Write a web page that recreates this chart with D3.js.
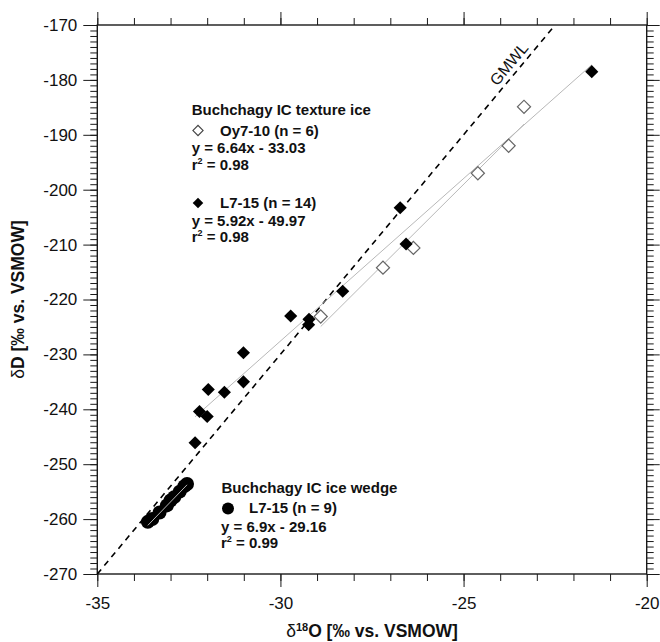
<!DOCTYPE html>
<html>
<head>
<meta charset="utf-8">
<script src="https://cdn.jsdelivr.net/npm/d3@7"></script>
<style>
  body { margin: 0; background: #fff; }
  svg { display: block; font-family: "Liberation Sans", Arial, sans-serif; }
</style>
</head>
<body>
<svg id="chart" width="660" height="642"></svg>
<script>
// axis ranges and ticks
const xDomain = [-35, -20];
const yDomain = [-270, -170];
const xMajorTicks = [-35, -30, -25, -20];
const yMajorTicks = [-270, -260, -250, -240, -230, -220, -210, -200, -190, -180, -170];
const xMinorTicks = d3.range(-35, -19, 1);
const yMinorTicks = d3.range(-270, -169, 1);

// Buchchagy IC texture ice, Oy7-10 (open diamonds)
const oyX = [-23.35, -23.77, -24.61, -26.37, -27.2, -28.9];
const oyY = [-184.9, -192.0, -197.0, -210.6, -214.2, -223.1];

// Buchchagy IC texture ice, L7-15 (filled diamonds)
const l7X = [-21.5, -26.73, -26.57, -28.3, -29.72, -29.22, -29.23, -31.01, -31.01, -31.53, -31.97, -32.21, -32.0, -32.33];
const l7Y = [-178.5, -203.3, -209.9, -218.5, -223.0, -223.6, -224.6, -229.7, -235.0, -236.9, -236.4, -240.4, -241.3, -246.1];

// Buchchagy IC ice wedge, L7-15 (circles)
const wedgeX = [-33.62, -33.5, -33.3, -33.1, -33.0, -32.9, -32.75, -32.62, -32.55];
const wedgeY = [-260.5, -260.0, -258.8, -257.5, -256.6, -256.0, -255.0, -254.0, -253.6];

// regression fits as printed in the legend: [slope, intercept]
const oyFit = [6.64, -33.03];
const l7Fit = [5.92, -49.97];
const wedgeFit = [6.9, -29.16];

// global meteoric water line end points
const gmwl = [[-35, -270], [-22.5, -170]];

const svg = d3.select("#chart");
const x = d3.scaleLinear().domain(xDomain).range([97.3, 646.7]);
const y = d3.scaleLinear().domain(yDomain).range([574, 25]);
const fmt = (d) => String(d);

const axisColor = "#1a1a1a";

function styleAxis(g, size) {
  g.selectAll("line").attr("stroke", axisColor).attr("stroke-width", 1);
  g.selectAll("text")
    .attr("fill", "#111")
    .style("font-size", size)
    .style("font-family", '"Liberation Sans", Arial, sans-serif');
  g.select(".domain").remove();
}

// minor ticks
const minor = [
  [d3.axisBottom(x).tickValues(xMinorTicks), `translate(0,${y(-270)})`],
  [d3.axisTop(x).tickValues(xMinorTicks), `translate(0,${y(-170)})`],
  [d3.axisLeft(y).tickValues(yMinorTicks), `translate(${x(-35)},0)`],
  [d3.axisRight(y).tickValues(yMinorTicks), `translate(${x(-20)},0)`],
];
minor.forEach(([axis, tr]) => {
  svg.append("g")
    .attr("transform", tr)
    .call(axis.tickSize(7).tickFormat(""))
    .call((g) => styleAxis(g, "0px"));
});

// major ticks with labels
svg.append("g")
  .attr("transform", `translate(0,${y(-270)})`)
  .call(d3.axisBottom(x).tickValues(xMajorTicks).tickSize(13).tickPadding(10).tickFormat(fmt))
  .call((g) => styleAxis(g, "17px"));

svg.append("g")
  .attr("transform", `translate(${x(-35)},0)`)
  .call(d3.axisLeft(y).tickValues(yMajorTicks).tickSize(14).tickPadding(6).tickFormat(fmt))
  .call((g) => styleAxis(g, "17px"));

svg.append("g")
  .attr("transform", `translate(0,${y(-170)})`)
  .call(d3.axisTop(x).tickValues(xMajorTicks).tickSize(13).tickFormat(""))
  .call((g) => styleAxis(g, "0px"));

svg.append("g")
  .attr("transform", `translate(${x(-20)},0)`)
  .call(d3.axisRight(y).tickValues(yMajorTicks).tickSize(13).tickFormat(""))
  .call((g) => styleAxis(g, "0px"));

// frame
svg.append("rect")
  .attr("x", x(-35))
  .attr("y", y(-170))
  .attr("width", x(-20) - x(-35))
  .attr("height", y(-270) - y(-170))
  .attr("fill", "none")
  .attr("stroke", axisColor)
  .attr("stroke-width", 1.4);

const plot = svg.append("g");

const line = d3.line().x((d) => x(d[0])).y((d) => y(d[1]));

// GMWL
plot.append("path")
  .attr("d", line(gmwl))
  .attr("fill", "none")
  .attr("stroke", "#000")
  .attr("stroke-width", 1.6)
  .attr("stroke-dasharray", "6,5");

const angle = Math.atan2(y(gmwl[1][1]) - y(gmwl[0][1]), x(gmwl[1][0]) - x(gmwl[0][0])) * 180 / Math.PI;
plot.append("text")
  .attr("transform", `translate(509,64) rotate(${angle})`)
  .attr("text-anchor", "middle")
  .attr("dominant-baseline", "central")
  .style("font-size", "16px")
  .attr("fill", "#111")
  .text("GMWL");

function fitLine(xs, fit) {
  const [x0, x1] = d3.extent(xs);
  return [[x0, fit[0] * x0 + fit[1]], [x1, fit[0] * x1 + fit[1]]];
}

function drawFit(xs, fit) {
  plot.append("path")
    .attr("d", line(fitLine(xs, fit)))
    .attr("fill", "none")
    .attr("stroke", "#b8b8b8")
    .attr("stroke-width", 1);
}

drawFit(oyX, oyFit);
drawFit(l7X, l7Fit);

const diamond = d3.symbol(d3.symbolSquare, 86);

plot.append("g")
  .selectAll("path")
  .data(d3.zip(oyX, oyY))
  .join("path")
  .attr("d", diamond)
  .attr("transform", (d) => `translate(${x(d[0])},${y(d[1])}) rotate(45)`)
  .attr("fill", "#fff")
  .attr("stroke", "#666")
  .attr("stroke-width", 1.2);

plot.append("g")
  .selectAll("path")
  .data(d3.zip(l7X, l7Y))
  .join("path")
  .attr("d", diamond)
  .attr("transform", (d) => `translate(${x(d[0])},${y(d[1])}) rotate(45)`)
  .attr("fill", "#000");

plot.append("g")
  .selectAll("circle")
  .data(d3.zip(wedgeX, wedgeY))
  .join("circle")
  .attr("cx", (d) => x(d[0]))
  .attr("cy", (d) => y(d[1]))
  .attr("r", 7)
  .attr("fill", "#000");

drawFit(wedgeX, wedgeFit);

// legends
const legend = svg.append("g")
  .style("font-size", "15px")
  .style("font-weight", "bold")
  .attr("fill", "#111");

function rSquared(g, px, py, value) {
  const t = g.append("text").attr("x", px).attr("y", py);
  t.append("tspan").text("r");
  t.append("tspan").attr("dy", -6).style("font-size", "9px").text("2");
  t.append("tspan").attr("dy", 6).text(` = ${value}`);
}

legend.append("text").attr("x", 191.7).attr("y", 115).text("Buchchagy IC texture ice");
legend.append("path")
  .attr("d", d3.symbol(d3.symbolSquare, 52)())
  .attr("transform", "translate(198,130.5) rotate(45)")
  .attr("fill", "#fff")
  .attr("stroke", "#444")
  .attr("stroke-width", 1.1);
legend.append("text").attr("x", 220).attr("y", 135.5).text("Oy7-10 (n = 6)");
legend.append("text").attr("x", 191.7).attr("y", 153).text("y = 6.64x - 33.03");
rSquared(legend, 191.7, 170, "0.98");

legend.append("path")
  .attr("d", d3.symbol(d3.symbolSquare, 56)())
  .attr("transform", "translate(198,203) rotate(45)")
  .attr("fill", "#000");
legend.append("text").attr("x", 220).attr("y", 208).text("L7-15 (n = 14)");
legend.append("text").attr("x", 191.7).attr("y", 226).text("y = 5.92x - 49.97");
rSquared(legend, 191.7, 242, "0.98");

legend.append("text").attr("x", 221.5).attr("y", 493).text("Buchchagy IC ice wedge");
legend.append("circle").attr("cx", 228).attr("cy", 508.5).attr("r", 6).attr("fill", "#000");
legend.append("text").attr("x", 249).attr("y", 513).text("L7-15 (n = 9)");
legend.append("text").attr("x", 221).attr("y", 531.5).text("y = 6.9x - 29.16");
rSquared(legend, 221, 548, "0.99");

// axis titles
const xTitle = svg.append("text")
  .attr("x", (x(-35) + x(-20)) / 2)
  .attr("y", 637)
  .attr("text-anchor", "middle")
  .style("font-size", "17.5px")
  .style("font-weight", "bold")
  .attr("fill", "#111");
xTitle.append("tspan").style("font-weight", "normal").text("δ");
xTitle.append("tspan").attr("dy", -6).style("font-size", "11px").text("18");
xTitle.append("tspan").attr("dy", 6).text("O [‰ vs. VSMOW]");

const yTitle = svg.append("text")
  .attr("transform", `translate(24,${(y(-170) + y(-270)) / 2}) rotate(-90)`)
  .attr("text-anchor", "middle")
  .style("font-size", "17.5px")
  .style("font-weight", "bold")
  .attr("fill", "#111");
yTitle.append("tspan").style("font-weight", "normal").text("δ");
yTitle.append("tspan").text("D [‰ vs. VSMOW]");
</script>
</body>
</html>
